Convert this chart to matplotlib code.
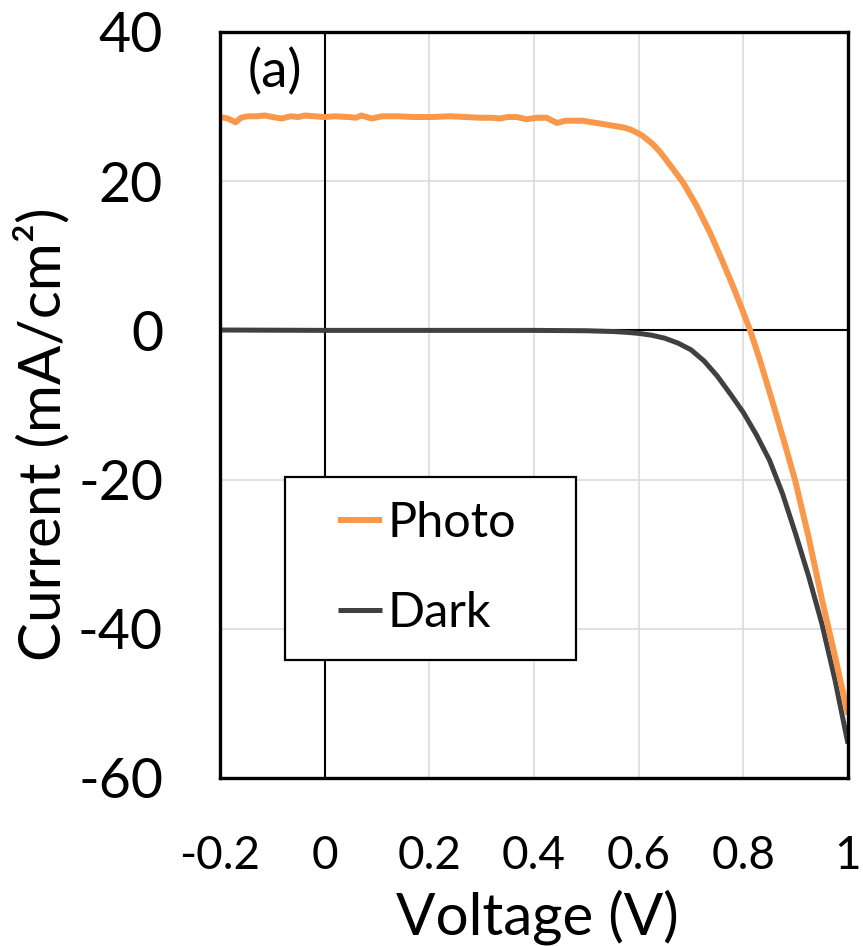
import matplotlib
matplotlib.use("Agg")
import matplotlib.pyplot as plt
import matplotlib.patches as patches

# photo current
v_photo = [-0.200, -0.185, -0.170, -0.160, -0.147, -0.130, -0.114, -0.100, -0.082, -0.065,
           -0.050, -0.038, -0.020, 0.000, 0.020, 0.045, 0.060, 0.070, 0.090, 0.110,
           0.140, 0.170, 0.205, 0.240, 0.270, 0.297, 0.320, 0.335, 0.350, 0.367,
           0.386, 0.405, 0.424, 0.444, 0.460, 0.475, 0.494, 0.510, 0.520, 0.545,
           0.571, 0.585, 0.597, 0.607, 0.616, 0.628, 0.640, 0.650, 0.665, 0.685,
           0.710, 0.737, 0.760, 0.781, 0.800, 0.813, 0.830, 0.855, 0.880, 0.899,
           0.925, 0.950, 0.975, 1.000]
j_photo = [28.6, 28.4, 27.9, 28.5, 28.7, 28.7, 28.8, 28.6, 28.4, 28.7,
           28.6, 28.8, 28.7, 28.6, 28.7, 28.6, 28.5, 28.8, 28.4, 28.7,
           28.7, 28.6, 28.6, 28.7, 28.6, 28.5, 28.5, 28.4, 28.6, 28.6,
           28.3, 28.5, 28.5, 27.8, 28.1, 28.1, 28.1, 27.9, 27.8, 27.5,
           27.2, 26.9, 26.5, 26.1, 25.6, 24.9, 24.0, 23.1, 21.7, 19.8,
           16.8, 13.0, 9.3, 5.8, 2.4, 0.0, -3.6, -9.4, -15.4, -20.1,
           -27.8, -36.0, -43.6, -51.5]

# dark current
v_dark = [-0.2, 0.0, 0.2, 0.4, 0.5, 0.55, 0.575, 0.6, 0.625, 0.65, 0.675, 0.7, 0.725,
          0.75, 0.775, 0.8, 0.825, 0.85, 0.875, 0.9, 0.925, 0.95, 0.975, 1.0]
j_dark = [0.05, 0.0, 0.0, 0.0, -0.05, -0.15, -0.25, -0.4, -0.65, -1.05, -1.7, -2.6, -4.1,
          -6.1, -8.5, -11.0, -14.0, -17.4, -21.9, -27.3, -33.0, -39.3, -46.8, -55.4]

xticks = [-0.2, 0, 0.2, 0.4, 0.6, 0.8, 1.0]
xlabels = ['-0.2', '0', '0.2', '0.4', '0.6', '0.8', '1']
yticks = [40, 20, 0, -20, -40, -60]
ylabels = ['40', '20', '0', '-20', '-40', '-60']

orange = '#F9984A'
dark = '#404040'
font = ['Lato', 'DejaVu Sans']

fig = plt.figure(figsize=(8.63, 9.46), dpi=100)
ax = fig.add_axes([0.2549, 0.1776, 0.7277, 0.7886])

ax.set_xlim(-0.2, 1.0)
ax.set_ylim(-60, 40)
ax.set_xticks(xticks)
ax.set_xticklabels(xlabels, family=font, fontsize=33)
ax.set_yticks(yticks)
ax.set_yticklabels(ylabels, family=font, fontsize=40)
ax.tick_params(axis='both', length=0)
ax.tick_params(axis='x', pad=41)
ax.tick_params(axis='y', pad=41)

ax.grid(True, color='#D9D9D9', linewidth=1.1, zorder=0)
ax.set_axisbelow(True)
ax.axhline(0, color='black', linewidth=1.5, zorder=1)
ax.axvline(0, color='black', linewidth=1.5, zorder=1)

ax.plot(v_dark, j_dark, color=dark, linewidth=3.6, label='Dark', zorder=3,
        solid_capstyle='butt')
ax.plot(v_photo, j_photo, color=orange, linewidth=4.3, label='Photo', zorder=4,
        solid_capstyle='butt')

for s in ax.spines.values():
    s.set_linewidth(2.4)
    s.set_zorder(6)

ax.set_xlabel('Voltage (V)', family=font, fontsize=42)
ax.xaxis.set_label_coords(0.505, -0.186)
ax.xaxis.label.set_va('center')
ax.set_ylabel('Current (mA/cm²)', family=font, fontsize=42)
ax.yaxis.set_label_coords(-0.283, 0.461)
ax.yaxis.label.set_va('center')

ax.text(-0.095, 34.6, '(a)', family=font, fontsize=38, ha='center', va='center')

# legend box
box = patches.Rectangle((0.1035, 0.158), 0.4635, 0.2455, transform=ax.transAxes,
                        facecolor='white', edgecolor='black', linewidth=1.6, zorder=7)
ax.add_patch(box)
h, l = ax.get_legend_handles_labels()
leg = ax.legend(h[::-1], l[::-1], loc='center', bbox_to_anchor=(0.33, 0.281),
                frameon=False, prop={'family': font, 'size': 35},
                handlelength=0.9, handletextpad=0.12, labelspacing=0.95)
leg.set_zorder(8)

fig.savefig('out.png', dpi=100)
